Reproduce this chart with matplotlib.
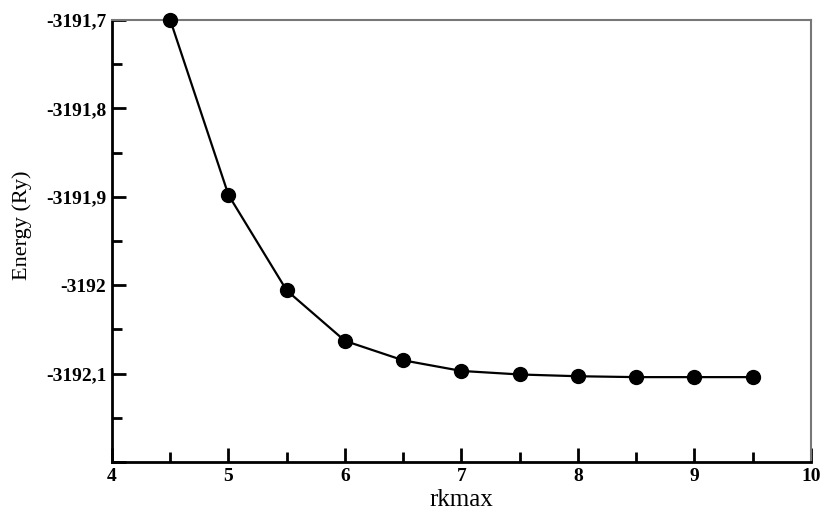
import numpy as np
import matplotlib.pyplot as plt
from matplotlib.ticker import MultipleLocator, FuncFormatter

# Data
rkmax = [4.5, 5.0, 5.5, 6.0, 6.5, 7.0, 7.5, 8.0, 8.5, 9.0, 9.5]
energy = [-3191.700, -3191.898, -3192.006, -3192.063, -3192.085, -3192.097,
          -3192.101, -3192.103, -3192.104, -3192.104, -3192.104]

plt.rcParams['font.family'] = 'Liberation Serif'

fig = plt.figure(figsize=(8.21, 5.11), dpi=100)
ax = fig.add_axes([0.1364, 0.0959, 0.8514, 0.865])

ax.plot(rkmax, energy, color='black', lw=1.6, marker='o', markersize=10, clip_on=False, zorder=3)

ax.set_xlim(4, 10)
ax.set_ylim(-3192.2, -3191.7)
ax.xaxis.set_major_locator(MultipleLocator(1))
ax.xaxis.set_minor_locator(MultipleLocator(0.5))
ax.yaxis.set_major_locator(MultipleLocator(0.1))
ax.yaxis.set_minor_locator(MultipleLocator(0.05))


def comma_fmt(v, pos):
    v = round(v, 1)
    if v == -3192.2:
        return ''
    return ('%g' % v).replace('.', ',')


ax.yaxis.set_major_formatter(FuncFormatter(comma_fmt))

ax.tick_params(which='major', direction='in', length=10, width=2, labelsize=14, pad=4)
ax.tick_params(which='minor', direction='in', length=7, width=2)
ax.tick_params(top=False, right=False, which='both')
for lbl in ax.get_xticklabels() + ax.get_yticklabels():
    lbl.set_fontweight('bold')

for s in ['left', 'bottom']:
    ax.spines[s].set_linewidth(2)
    ax.spines[s].set_color('black')
for s in ['top', 'right']:
    ax.spines[s].set_linewidth(1.5)
    ax.spines[s].set_color('#777777')

ax.set_xlabel('rkmax', fontsize=18)
ax.xaxis.set_label_coords(0.5, -0.062)
ax.set_ylabel('Energy (Ry)', fontsize=16)
ax.yaxis.set_label_coords(-0.115, 0.536)

fig.savefig('out.png', dpi=100)
